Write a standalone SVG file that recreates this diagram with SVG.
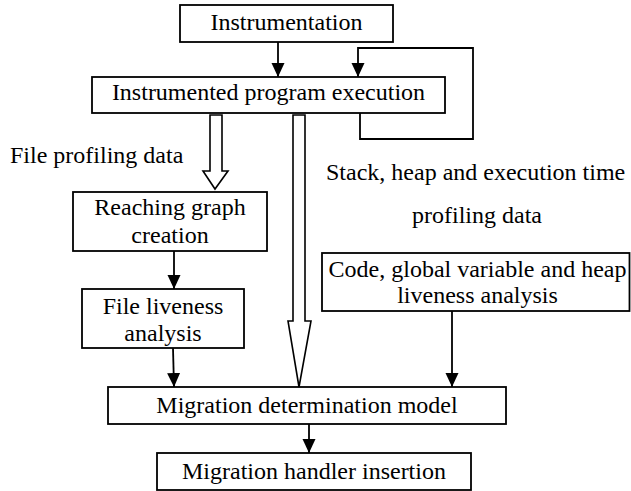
<svg xmlns="http://www.w3.org/2000/svg" width="631" height="491" viewBox="0 0 631 491">
<style>
  .box { fill: #fff; stroke: #000; stroke-width: 1.8; }
  text { font-family: "Liberation Serif", "Times New Roman", "DejaVu Serif", serif; font-size: 24px; fill: #000; }
  .c { text-anchor: middle; }
  .ln { fill: none; stroke: #000; stroke-width: 1.8; }
  .hol { fill: #fff; stroke: #000; stroke-width: 1.6; stroke-linejoin: miter; }
</style>
<defs>
  <marker id="ah" markerUnits="userSpaceOnUse" markerWidth="15" markerHeight="14" refX="14" refY="6.5" orient="auto">
    <path d="M0,0 L14,6.5 L0,13 Z" fill="#000"/>
  </marker>
</defs>
<rect width="631" height="491" fill="#fff"/>

<g id="connectors">
  <line class="ln" x1="278" y1="42" x2="278" y2="77" marker-end="url(#ah)"/>
  <polyline class="ln" points="360,113 360,139 473,139 473,48 358,48 358,77" marker-end="url(#ah)"/>
  <polygon class="hol" points="210,115 222,115 222,171 228,171 215,189 203,171 210,171"/>
  <polygon class="hol" points="293,115 305,115 305,321 311,321 299,387 288,321 293,321"/>
  <line class="ln" x1="174" y1="251" x2="174" y2="289" marker-end="url(#ah)"/>
  <line class="ln" x1="173" y1="348" x2="174" y2="387" marker-end="url(#ah)"/>
  <line class="ln" x1="452" y1="311" x2="452" y2="387" marker-end="url(#ah)"/>
  <line class="ln" x1="309" y1="424" x2="309" y2="453" marker-end="url(#ah)"/>
</g>

<g id="n1">
  <rect class="box" x="180" y="5" width="213" height="37"/>
  <text class="c" x="286.5" y="30" font-family="Liberation Serif, serif">Instrumentation</text>
</g>
<g id="n2">
  <rect class="box" x="92" y="77" width="353" height="36"/>
  <text class="c" x="268.5" y="100" font-family="Liberation Serif, serif">Instrumented program execution</text>
</g>
<g id="n3">
  <rect class="box" x="73" y="192" width="194" height="59"/>
  <text class="c" x="170" y="215" font-family="Liberation Serif, serif">Reaching graph</text>
  <text class="c" x="170" y="243" font-family="Liberation Serif, serif">creation</text>
</g>
<g id="n4">
  <rect class="box" x="82" y="289" width="162" height="59"/>
  <text class="c" x="163" y="314" font-family="Liberation Serif, serif">File liveness</text>
  <text class="c" x="163" y="341" font-family="Liberation Serif, serif">analysis</text>
</g>
<g id="n5">
  <rect class="box" x="322" y="253" width="307.5" height="58"/>
  <text class="c" x="477.5" y="277" font-family="Liberation Serif, serif">Code, global variable and heap</text>
  <text class="c" x="477.5" y="303" font-family="Liberation Serif, serif">liveness analysis</text>
</g>
<g id="n6">
  <rect class="box" x="108" y="387" width="398" height="37"/>
  <text class="c" x="307" y="413" font-family="Liberation Serif, serif">Migration determination model</text>
</g>
<g id="n7">
  <rect class="box" x="157" y="453" width="314" height="37"/>
  <text class="c" x="314" y="479" font-family="Liberation Serif, serif">Migration handler insertion</text>
</g>

<g id="labels">
  <text x="10" y="163" font-family="Liberation Serif, serif">File profiling data</text>
  <text x="326" y="180" font-family="Liberation Serif, serif">Stack, heap and execution time</text>
  <text class="c" x="477" y="223" font-family="Liberation Serif, serif">profiling data</text>
</g>
</svg>
